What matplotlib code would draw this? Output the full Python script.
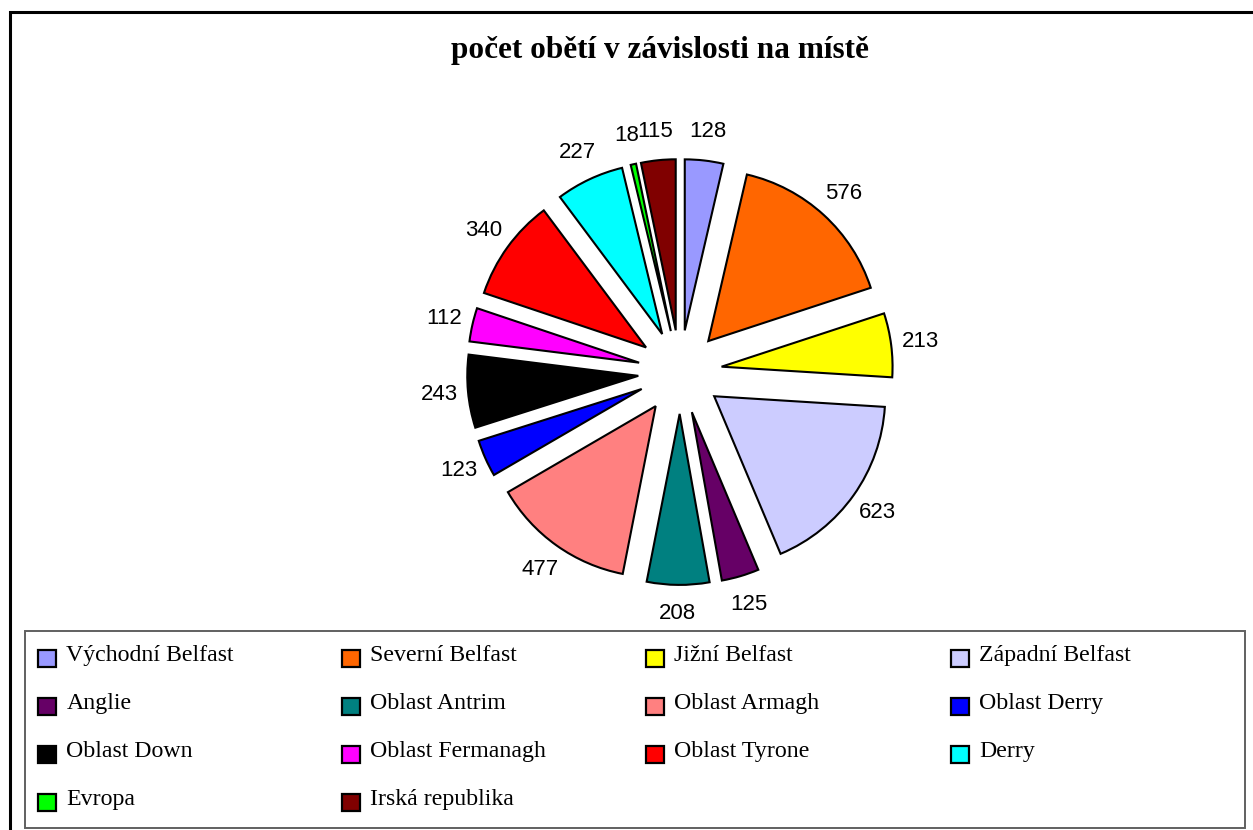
import matplotlib
matplotlib.use("Agg")
import matplotlib.pyplot as plt
from matplotlib.patches import Rectangle
import numpy as np

title = "počet obětí v závislosti na místě"
categories = ["Východní Belfast", "Severní Belfast", "Jižní Belfast", "Západní Belfast",
              "Anglie", "Oblast Antrim", "Oblast Armagh", "Oblast Derry",
              "Oblast Down", "Oblast Fermanagh", "Oblast Tyrone", "Derry",
              "Evropa", "Irská republika"]
values = [128, 576, 213, 623, 125, 208, 477, 123, 243, 112, 340, 227, 18, 115]
colors = ["#9999FF", "#FF6600", "#FFFF00", "#CCCCFF",
          "#660066", "#008080", "#FF8080", "#0000FF",
          "#000000", "#FF00FF", "#FF0000", "#00FFFF",
          "#00FF00", "#800000"]

W, H = 1253, 830
fig = plt.figure(figsize=(W / 100, H / 100), dpi=100)
fig.patch.set_facecolor("white")

def fx(px):
    return px / W

def fy(py):
    return 1 - py / H

# outer frame
fig.patches.append(Rectangle((fx(10), fy(845)), fx(1270) - fx(10), fy(12) - fy(845),
                             transform=fig.transFigure, fill=False,
                             edgecolor="black", linewidth=2.2))

# title
fig.text(fx(660), fy(58), title, ha="center", va="baseline",
         fontsize=22.5, fontweight="bold", family="Liberation Serif")

# pie
R = 171.0
cx, cy = 680, 372
half = 1.6 * R
ax = fig.add_axes([fx(cx - half), fy(cy + half), 2 * half / W, 2 * half / H])
explode = [0.245] * len(values)
wedges, texts = ax.pie(values, colors=colors, explode=explode, startangle=90,
                       counterclock=False, labels=[str(v) for v in values],
                       labeldistance=1.17,
                       wedgeprops=dict(edgecolor="black", linewidth=1.5),
                       textprops=dict(fontsize=16, family="Liberation Sans"))
for t in texts:
    t.set_ha("center")
    t.set_va("center")
ax.set_xlim(-1.6, 1.6)
ax.set_ylim(-1.6, 1.6)
ax.set_aspect("equal")
ax.axis("off")

# legend box
fig.patches.append(Rectangle((fx(25), fy(828)), fx(1245) - fx(25), fy(631) - fy(828),
                             transform=fig.transFigure, fill=False,
                             edgecolor="#606060", linewidth=1.4))
col_x = [37, 341, 645, 950]
row_y = [668, 716, 764, 812]
for i, (name, c) in enumerate(zip(categories, colors)):
    col = i % 4
    row = i // 4
    x0 = col_x[col]
    yb = row_y[row]
    fig.patches.append(Rectangle((fx(x0 + 1), fy(yb - 1)), fx(17.5), 17.5 / H,
                                 transform=fig.transFigure, facecolor=c,
                                 edgecolor="black", linewidth=1.6))
    fig.text(fx(x0 + 29.5), fy(yb - 7), name, ha="left", va="baseline",
             fontsize=17.2, family="Liberation Serif")

fig.savefig("out.png", dpi=100)
